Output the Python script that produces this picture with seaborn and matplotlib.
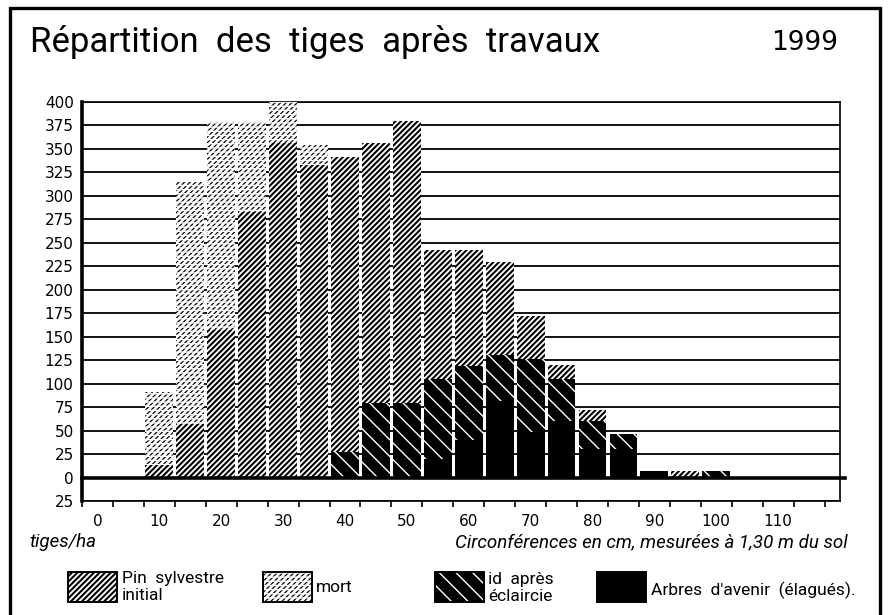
import matplotlib
matplotlib.use("Agg")
import matplotlib.pyplot as plt
from matplotlib.patches import Rectangle
from matplotlib.ticker import FixedLocator, FixedFormatter
import numpy as np
import pandas as pd
import seaborn as sns

# ---------------- data ----------------
circ = [10, 15, 20, 25, 30, 35, 40, 45, 50, 55, 60, 65, 70, 75, 80, 85, 90, 95, 100]
initial = [13, 57, 157, 283, 356, 333, 341, 356, 380, 242, 242, 230, 172, 120, 72, 46, 7, 7, 7]
mort = [78, 258, 222, 96, 44, 21, 0, 0, 0, 0, 0, 0, 0, 0, 0, 0, 0, 0, 0]
apres = [0, 0, 0, 0, 0, 0, 27, 79, 79, 105, 119, 131, 126, 105, 60, 46, 7, 0, 7]
avenir = [0, 0, 0, 0, 0, 0, 0, 0, 0, 20, 40, 82, 48, 60, 30, 30, 7, 0, 0]

y_ticks = [-25, 0, 25, 50, 75, 100, 125, 150, 175, 200, 225, 250, 275, 300, 325, 350, 375, 400]
y_tick_labels = ["25", "0", "25", "50", "75", "100", "125", "150", "175", "200", "225",
                 "250", "275", "300", "325", "350", "375", "400"]
x_ticks = [0, 10, 20, 30, 40, 50, 60, 70, 80, 90, 100, 110]
x_tick_labels = [str(v) for v in x_ticks]
x_edges = [-2.5 + 5 * i for i in range(25)]

title = "Répartition  des  tiges  après  travaux"
year = "1999"
ylabel = "tiges/ha"
xlabel = "Circonférences en cm, mesurées à 1,30 m du sol"
legend_labels = ["Pin  sylvestre\ninitial", "mort", "id  après\néclaircie", "Arbres  d'avenir  (élagués)."]

df = pd.DataFrame({"circ": circ, "initial": initial, "mort": mort, "apres": apres, "avenir": avenir})
df["total"] = df["initial"] + df["mort"]

W, H = 891, 615
fig = plt.figure(figsize=(W / 100, H / 100), dpi=100)
fig.patch.set_facecolor("white")

def fx(px):
    return px / W

def fy(py):
    return 1 - py / H

ax = fig.add_axes([fx(82), fy(501), fx(840) - fx(82), fy(102) - fy(501)])

txtfont = ["Roboto", "DejaVu Sans"]

# hatch styles: (facecolor, hatch colour, hatch, hatch linewidth)
H_MORT = ("white", "black", "//////", 0.9)
H_MORT_CUT = ("none", "white", "----", 1.0)
H_INIT = ("white", "black", "//////", 1.5)
H_APRES = ("black", "white", "\\\\", 1.0)
H_AVENIR = ("black", "black", "", 1.0)

def style(p, st, z=None):
    face, edge, hatch, hlw = st
    p.set_facecolor(face)
    p.set_edgecolor(edge)
    p.set_linewidth(0)
    p.set_hatch(hatch)
    if hasattr(p, "set_hatch_linewidth"):
        p.set_hatch_linewidth(hlw)
    if z is not None:
        p.set_zorder(z)

def layer(col, st, z):
    before = len(ax.patches)
    sns.barplot(data=df, x="circ", y=col, native_scale=True, width=0.9,
                errorbar=None, ax=ax, color="white", saturation=1)
    for p in ax.patches[before:]:
        style(p, st, z)

layer("total", H_MORT, 3)
layer("total", H_MORT_CUT, 3.1)
layer("initial", H_INIT, 4)
layer("apres", H_APRES, 5)
layer("avenir", H_AVENIR, 6)

ax.set_xlim(-2.5, 120)
ax.set_ylim(-25, 400)
ax.set_xlabel("")
ax.set_ylabel("")

ax.yaxis.set_major_locator(FixedLocator(y_ticks))
ax.yaxis.set_major_formatter(FixedFormatter(y_tick_labels))
ax.xaxis.set_major_locator(FixedLocator(x_ticks))
ax.xaxis.set_major_formatter(FixedFormatter(x_tick_labels))
ax.xaxis.set_minor_locator(FixedLocator(x_edges))
ax.tick_params(axis="y", length=0, pad=6, labelsize=11)
ax.tick_params(axis="x", which="major", length=0, pad=9, labelsize=11)
ax.tick_params(axis="x", which="minor", length=4, width=1.2, direction="out")
for lab in ax.get_xticklabels() + ax.get_yticklabels():
    lab.set_family("DejaVu Sans")

ax.set_axisbelow(True)
ax.yaxis.grid(True, color="black", linewidth=1.3)
ax.xaxis.grid(False)
ax.axhline(0, color="black", linewidth=2.6, zorder=8, xmin=0, xmax=1.007, clip_on=False)

for s in ["top", "right", "bottom"]:
    ax.spines[s].set_linewidth(1.2)
    ax.spines[s].set_color("black")
ax.spines["left"].set_linewidth(2.6)
ax.spines["left"].set_color("black")

# frame around the figure
fig.add_artist(Rectangle((fx(10), -0.02), fx(880) - fx(10), fy(8) + 0.02,
                         transform=fig.transFigure, fill=False, edgecolor="black",
                         linewidth=2.4))

fig.text(fx(30), fy(42), title, fontsize=25, family=txtfont, ha="left", va="center")
fig.text(fx(838), fy(43), year, fontsize=19, family="DejaVu Sans", ha="right", va="center")
fig.text(fx(29), fy(542), ylabel, fontsize=13.5, family=txtfont, style="italic",
         ha="left", va="center")
fig.text(fx(848), fy(542), xlabel, fontsize=13.5, family=txtfont, style="italic",
         ha="right", va="center")

# legend
def legend_box(x0, st, overlay=None):
    bw, bh, y0 = 49, 30, 602
    r = Rectangle((fx(x0), fy(y0)), fx(bw), bh / H, transform=fig.transFigure)
    style(r, st)
    fig.add_artist(r)
    if overlay is not None:
        o = Rectangle((fx(x0), fy(y0)), fx(bw), bh / H, transform=fig.transFigure)
        style(o, overlay)
        fig.add_artist(o)
    fig.add_artist(Rectangle((fx(x0), fy(y0)), fx(bw), bh / H, transform=fig.transFigure,
                             facecolor="none", edgecolor="black", linewidth=1.4))

legend_box(68, H_INIT)
legend_box(263, H_MORT, overlay=H_MORT_CUT)
legend_box(435, H_APRES)
legend_box(597, H_AVENIR)

fig.text(fx(122), fy(587), legend_labels[0], fontsize=12.5, family=txtfont, ha="left",
         va="center", linespacing=1.15)
fig.text(fx(316), fy(588), legend_labels[1], fontsize=12.5, family=txtfont, ha="left", va="center")
fig.text(fx(488), fy(588), legend_labels[2], fontsize=12.5, family=txtfont, ha="left",
         va="center", linespacing=1.15)
fig.text(fx(651), fy(590), legend_labels[3], fontsize=12.5, family=txtfont, ha="left", va="center")

fig.savefig("out.png", dpi=100, facecolor="white")
